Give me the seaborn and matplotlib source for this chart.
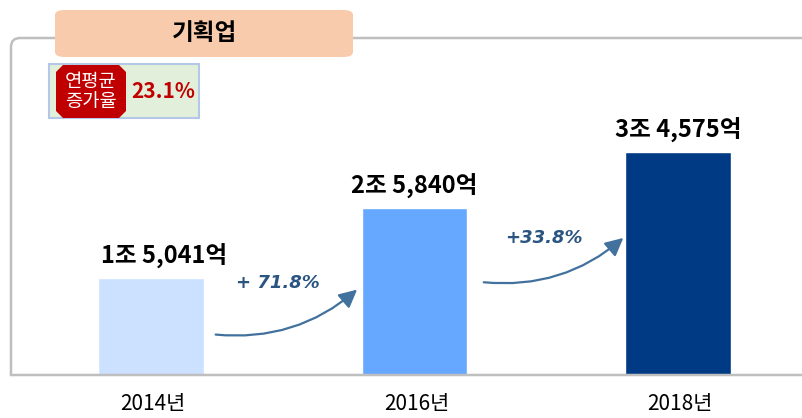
import numpy as np
import pandas as pd
import seaborn as sns
import matplotlib.pyplot as plt
from matplotlib.patches import FancyBboxPatch, Polygon
from matplotlib.path import Path
from matplotlib.patches import PathPatch

# 데이터 (단위: 억)
years = ["2014년", "2016년", "2018년"]
values = [15041, 25840, 34575]
value_labels = ["1조 5,041억", "2조 5,840억", "3조 4,575억"]
bar_colors = ["#CCE0FF", "#66A8FF", "#003A85"]
growth_labels = ["+ 71.8%", "+33.8%"]
cagr_label = "23.1%"
title = "기획업"

sns.set_theme(style="white")
plt.rcParams['font.family'] = ['Noto Sans CJK KR', 'DejaVu Sans']

W, H = 802, 418
fig = plt.figure(figsize=(W / 100, H / 100), dpi=100)


def fx(px):
    return px / W


def fy(py):
    return 1 - py / H


# 축 영역: x 11~802, y 40~375 px
ax = fig.add_axes([fx(11), fy(375), fx(802) - fx(11), fy(40) - fy(375)])
df = pd.DataFrame({"year": years, "value": values})
sns.barplot(data=df, x="year", y="value", hue="year", palette=bar_colors,
            width=0.4, legend=False, ax=ax, saturation=1)
ax.set_xlim(-0.531, 2.47)
ax.set_ylim(0, 51860)
ax.set_axis_off()

# 막대 위 값 라벨
label_dx = [0.05, 0.0, 0.0]
for i, (v, lab) in enumerate(zip(values, value_labels)):
    ax.text(i + label_dx[i], v + 3300, lab, ha="center", va="center",
            fontsize=17, fontweight="bold", color="black")

# 연도 라벨
for i, y in enumerate(years):
    fig.text(fx(153 + 263.5 * i), fy(404), y, ha="center", va="center",
             fontsize=15, color="black")

# 증가율 화살표
arrows = [((0.235, 6300), (0.79, 13500), (0.48, 14300)),
          ((1.252, 14400), (1.80, 21500), (1.49, 21200))]
for (start, end, tpos), lab in zip(arrows, growth_labels):
    ax.annotate("", xy=end, xytext=start,
                arrowprops=dict(arrowstyle="-|>,head_length=0.9,head_width=0.45",
                                connectionstyle="arc3,rad=0.22",
                                color="#41719C", lw=1.6))
    ax.text(tpos[0], tpos[1], lab, ha="center", va="center", fontsize=13,
            fontweight="bold", fontstyle="italic", color="#2A5580",
            family=["DejaVu Sans"])

# 외곽선 (왼쪽 위 둥근 모서리)
verts = [(fx(802), fy(38)), (fx(20), fy(38)), (fx(11), fy(38)), (fx(11), fy(47)),
         (fx(11), fy(375)), (fx(802), fy(375))]
codes = [Path.MOVETO, Path.LINETO, Path.CURVE3, Path.CURVE3, Path.LINETO, Path.LINETO]
fig.patches.append(PathPatch(Path(verts, codes), transform=fig.transFigure,
                             fill=False, edgecolor="#BFBFBF", lw=1.8, zorder=0))

# 제목 상자
fig.patches.append(FancyBboxPatch((fx(55), fy(57)), fx(353) - fx(55), fy(10) - fy(57),
                                  boxstyle="round,pad=0,rounding_size=0.012",
                                  transform=fig.transFigure, facecolor="#F8CBAD",
                                  edgecolor="none", zorder=2))
fig.text(fx(205), fy(33), title, ha="center", va="center", fontsize=17,
         fontweight="bold", color="black", zorder=3)

# 연평균 증가율 배지
fig.patches.append(plt.Rectangle((fx(49), fy(118)), fx(199) - fx(49), fy(64) - fy(118),
                                 transform=fig.transFigure, facecolor="#E2EFDA",
                                 edgecolor="#B4C7E7", lw=1.5, zorder=2))
x0, x1, y0, y1, c = 56, 126, 65, 118, 7
oct_pts = [(x0 + c, y0), (x1 - c, y0), (x1, y0 + c), (x1, y1 - c), (x1 - c, y1),
           (x0 + c, y1), (x0, y1 - c), (x0, y0 + c)]
fig.patches.append(Polygon([(fx(a), fy(b)) for a, b in oct_pts], closed=True,
                           transform=fig.transFigure, facecolor="#C00000",
                           edgecolor="none", zorder=3))
fig.text(fx(91), fy(91.5), "연평균\n증가율", ha="center", va="center", fontsize=13.5,
         color="white", linespacing=0.95, zorder=4)
fig.text(fx(163), fy(91), cagr_label, ha="center", va="center", fontsize=15,
         fontweight="bold", color="#C00000", zorder=4)

fig.savefig("out.png", dpi=100)
